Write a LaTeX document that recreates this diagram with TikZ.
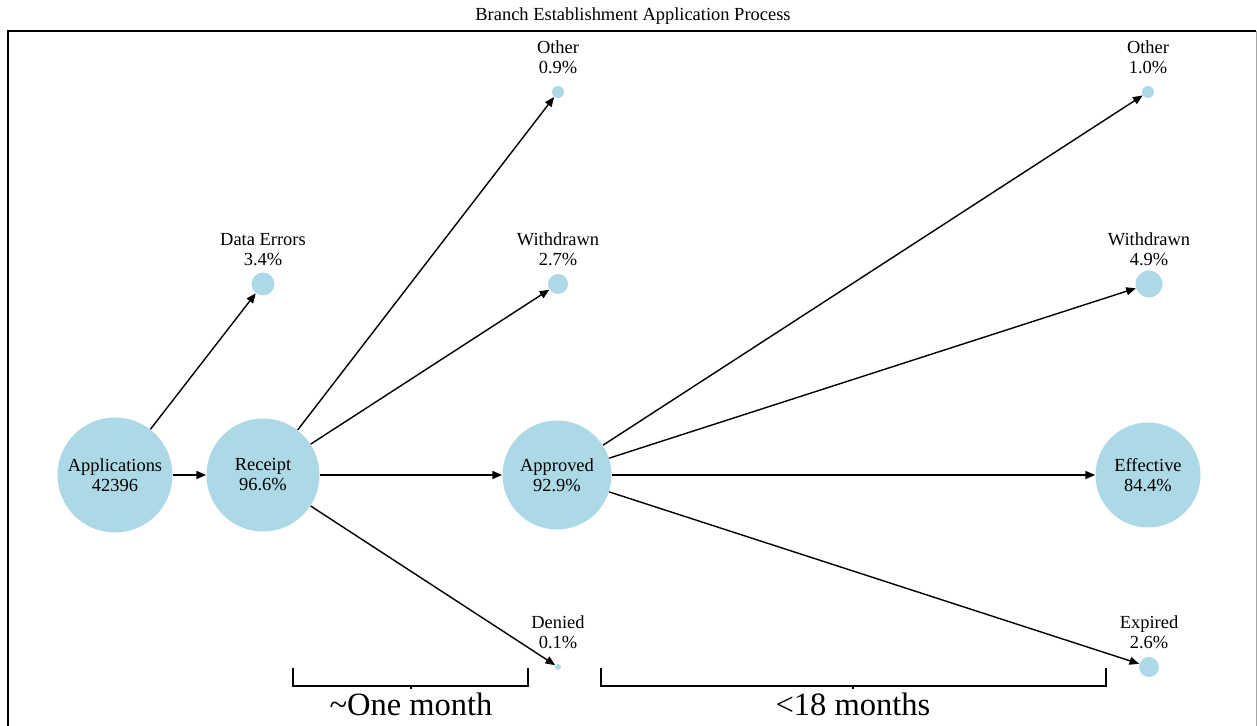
\documentclass[tikz,border=0pt]{standalone}
\usepackage{fontspec}
\setmainfont{Liberation Serif}
\usetikzlibrary{arrows.meta}
\definecolor{stageblue}{HTML}{ADD8E6}

\begin{document}
\begin{tikzpicture}[
        font=\fontsize{10.5}{11.4}\selectfont, >={Triangle[length=5.5pt,width=4.5pt]},
        stage/.style={circle, fill=stageblue, inner sep=0pt, align=center},
        tag/.style={align=center, inner sep=0pt},
        flow/.style={->, line width=0.8pt},
        timebar/.style={line width=1.6pt},
        timetext/.style={anchor=base, inner sep=0pt, font=\fontsize{18.5}{22}\selectfont}
    ]
        \useasboundingbox (0,0) rectangle (25.14,14.52);
        % frame and title
        \draw[line width=0.8pt] (0.16,0) -- (0.16,13.90) -- (25.12,13.90);
        \draw[black!35, line width=0.5pt] (25.12,13.90) -- (25.12,0);
        \node (title) at (12.66,14.20) {Branch Establishment Application Process};
        % main stages
        \node[stage, minimum size=2.30cm] (app) at (2.30,5.02) {Applications\\42396};
        \node[stage, minimum size=2.26cm] (rec) at (5.26,5.02) {Receipt\\96.6\%};
        \node[stage, minimum size=2.18cm] (appr) at (11.14,5.02) {Approved\\92.9\%};
        \node[stage, minimum size=2.10cm] (eff) at (22.96,5.02) {Effective\\84.4\%};
        % exits
        \node[stage, minimum size=0.46cm] (err) at (5.26,8.84) {};
        \node[stage, minimum size=0.40cm] (wd1) at (11.16,8.84) {};
        \node[stage, minimum size=0.24cm] (oth1) at (11.16,12.68) {};
        \node[stage, minimum size=0.12cm] (den) at (11.16,1.18) {};
        \node[stage, minimum size=0.24cm] (oth2) at (22.96,12.68) {};
        \node[stage, minimum size=0.54cm] (wd2) at (22.98,8.84) {};
        \node[stage, minimum size=0.40cm] (exp) at (22.98,1.18) {};
        \node[tag] (lerr) at (5.26,9.53) {Data Errors\\3.4\%};
        \node[tag] (lwd1) at (11.16,9.53) {Withdrawn\\2.7\%};
        \node[tag] (loth1) at (11.16,13.37) {Other\\0.9\%};
        \node[tag] (lden) at (11.16,1.87) {Denied\\0.1\%};
        \node[tag] (loth2) at (22.96,13.37) {Other\\1.0\%};
        \node[tag] (lwd2) at (22.98,9.53) {Withdrawn\\4.9\%};
        \node[tag] (lexp) at (22.98,1.87) {Expired\\2.6\%};
        \draw[flow] (app) -- (rec); \draw[flow] (app) -- (err);
        \draw[flow] (rec) -- (appr); \draw[flow] (rec) -- (wd1);
        \draw[flow] (rec) -- (oth1); \draw[flow] (rec) -- (den);
        \draw[flow] (appr) -- (eff); \draw[flow] (appr) -- (wd2);
        \draw[flow] (appr) -- (oth2); \draw[flow] (appr) -- (exp);
        % time spans
        \draw[timebar] (5.86,1.16) -- (5.86,0.80) -- (10.56,0.80) -- (10.56,1.16);
        \draw[timebar] (8.22,0.80) -- (8.22,0.74);
        \node[timetext] (month) at (8.22,0.20) {\textasciitilde One month};
        \draw[timebar] (12.02,1.16) -- (12.02,0.80) -- (22.12,0.80) -- (22.12,1.16);
        \draw[timebar] (17.06,0.80) -- (17.06,0.74);
        \node[timetext] (months) at (17.06,0.20) {<18 months};
    \end{tikzpicture}
\end{document}
